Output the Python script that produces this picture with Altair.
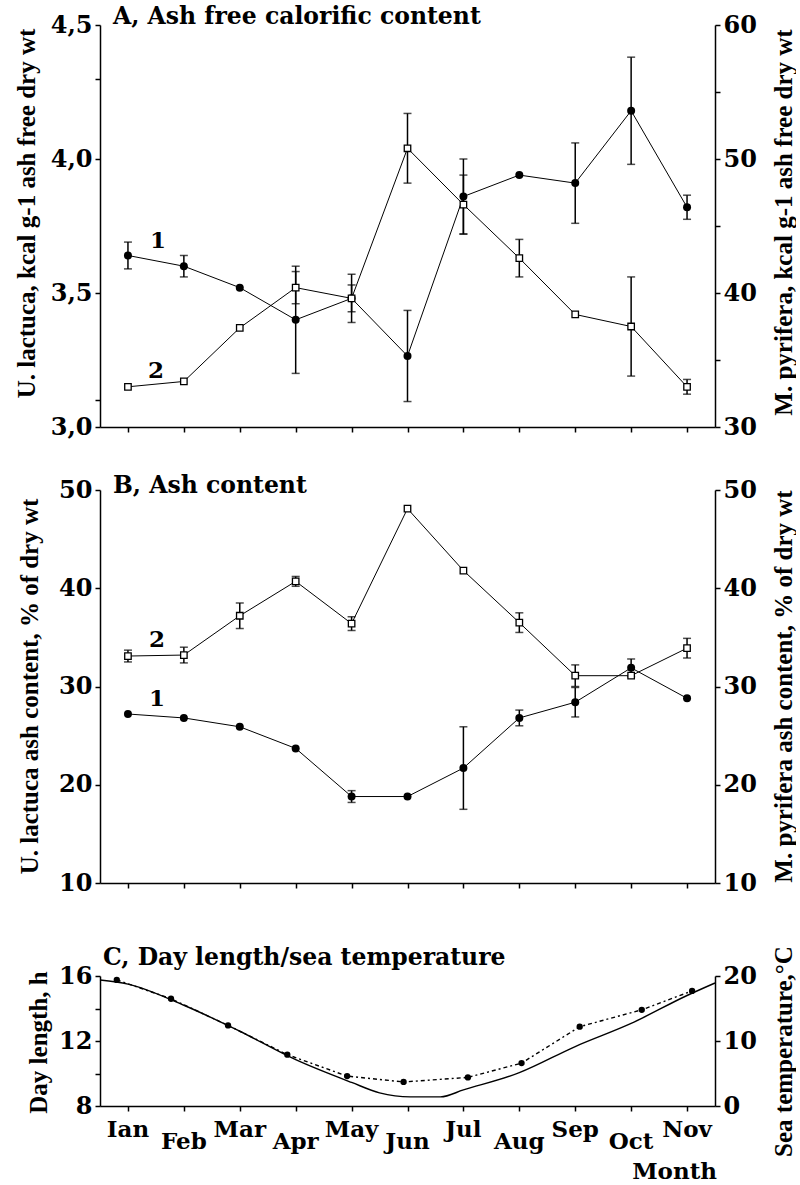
import altair as alt
import pandas as pd

# ---------------- data ----------------
month_idx = list(range(11))
month_labels = ["Ian", "Feb", "Mar", "Apr", "May", "Jun", "Jul", "Aug", "Sep", "Oct", "Nov"]

# Panel A: ash free calorific content
a_ulac = [3.64, 3.60, 3.52, 3.40, 3.48, 3.265, 3.86, 3.94, 3.91, 4.18, 3.82]
a_ulac_err = [0.05, 0.04, 0, 0.20, 0.09, 0.17, 0.14, 0, 0.15, 0.20, 0.045]
a_mpyr = [33.0, 33.4, 37.4, 40.4, 39.6, 50.8, 46.6, 42.6, 38.4, 37.5, 33.0]
a_mpyr_err = [0, 0, 0, 1.2, 1.0, 2.6, 2.2, 1.4, 0, 3.7, 0.55]

# Panel B: ash content
b_ulac = [27.2, 26.8, 25.9, 23.7, 18.8, 18.8, 21.7, 26.8, 28.4, 31.9, 28.8]
b_ulac_err = [0, 0, 0, 0, 0.6, 0, 4.2, 0.8, 1.5, 0.9, 0]
b_mpyr = [33.1, 33.2, 37.2, 40.7, 36.4, 48.1, 41.8, 36.5, 31.1, 31.1, 33.9]
b_mpyr_err = [0.6, 0.8, 1.3, 0.5, 0.7, 0, 0, 1.0, 1.1, 0, 1.0]

# Panel C: day length (h) and sea temperature (C)
day_pos = [-0.5, 0, 1, 2, 3, 4, 4.5, 5.05, 5.59, 6, 7, 8, 9, 10, 10.5]
day_len = [15.75, 15.5, 14.2, 12.6, 10.85, 9.45, 8.81, 8.56, 8.56, 8.99, 10.05, 11.66, 13.08, 14.8, 15.57]
temp_pos = [-0.2, 0.77, 1.79, 2.85, 3.92, 4.93, 6.08, 7.04, 8.08, 9.19, 10.09]
temp_val = [19.4, 16.5, 12.4, 7.9, 4.6, 3.7, 4.4, 6.6, 12.2, 14.8, 17.7]

# ---------------- styling ----------------
W = 615
TICK_FONT = "DejaVu Serif"
TEXT_FONT = "DejaVu Serif"
TITLE_FONT = "Liberation Serif"

xscale = alt.Scale(domain=[-0.5, 10.5], nice=False, zero=False)


def xenc():
    return alt.X("m:Q", scale=xscale,
                 axis=alt.Axis(values=month_idx, labels=False, title=None, grid=False))


def series(df, axis, scale, filled, lab, dx, dy, size):
    base = alt.Chart(df)
    y = alt.Y("v:Q", scale=scale, axis=axis)
    line = base.mark_line(color="black", strokeWidth=1).encode(x=xenc(), y=y)
    eb = base.transform_filter("datum.e > 0").transform_calculate(
        lo="datum.v - datum.e", hi="datum.v + datum.e")
    rule = eb.mark_rule(color="black", strokeWidth=1.5).encode(
        x=xenc(), y=alt.Y("lo:Q", scale=scale, axis=axis), y2="hi:Q")
    cap_lo = eb.mark_tick(orient="horizontal", size=8, thickness=1.5, color="black").encode(
        x=xenc(), y=alt.Y("lo:Q", scale=scale, axis=axis))
    cap_hi = eb.mark_tick(orient="horizontal", size=8, thickness=1.5, color="black").encode(
        x=xenc(), y=alt.Y("hi:Q", scale=scale, axis=axis))
    if filled:
        pts = base.mark_point(shape="circle", filled=True, color="black", size=size, opacity=1)
    else:
        pts = base.mark_point(shape="square", filled=True, fill="white", stroke="black",
                              strokeWidth=1.3, size=size, opacity=1)
    pts = pts.encode(x=xenc(), y=y)
    lbl = base.transform_filter("datum.m == 0").mark_text(
        text=lab, dx=dx, dy=dy, font=TEXT_FONT, fontWeight="bold", fontSize=23,
        color="black").encode(x=xenc(), y=y)
    return alt.layer(line, rule, cap_lo, cap_hi, pts, lbl)


def df_of(vals, errs):
    return pd.DataFrame({"m": month_idx, "v": vals, "e": errs})


def panel_title(text, x, y):
    return alt.Chart(pd.DataFrame({"t": [text]})).mark_text(
        align="left", baseline="middle", font=TEXT_FONT, fontWeight="bold",
        fontSize=23.5, color="black").encode(
        x=alt.value(x), y=alt.value(y), text="t:N")


def yaxis(orient, title, values, label_expr, tx, ty):
    return alt.Axis(orient=orient, title=title, values=values, labelExpr=label_expr,
                    grid=False, titleX=tx, titleY=ty, titleBaseline="middle",
                    titleAngle=270, titleAlign="center")


SP = 63          # gap between plot areas of A and B
EXTRA_C = 30     # extra top space in C so that the B->C gap is larger

# ---------------- panel A ----------------
HA = 402
axA_l = yaxis("left", "U. lactuca,  kcal g-1 ash free dry wt", [3.0, 3.1, 3.5, 4.0, 4.3, 4.5],
              "(datum.value==3||datum.value==3.5||datum.value==4||datum.value==4.5) ? replace(format(datum.value,'.1f'),'.',',') : ''",
              -74, 188)
axA_r = yaxis("right", "M. pyrifera, kcal g-1 ash free dry wt", [30, 35, 40, 45, 50, 55, 60],
              "datum.value % 10 == 0 ? datum.label : ''", 68, 197)
scA_l = alt.Scale(domain=[3.0, 4.5], nice=False, zero=False)
scA_r = alt.Scale(domain=[30, 60], nice=False, zero=False)
A = alt.layer(
    series(df_of(a_ulac, a_ulac_err), axA_l, scA_l, True, "1", 30, -14, 64),
    series(df_of(a_mpyr, a_mpyr_err), axA_r, scA_r, False, "2", 28, -16, 42),
    panel_title("A, Ash free calorific content", 13, -8),
).resolve_scale(y="independent").properties(width=W, height=HA)

# ---------------- panel B ----------------
HB = 393
axB_l = yaxis("left", "U. lactuca ash content, % of dry wt", [10, 20, 30, 40, 50],
              "datum.label", -71, 196)
axB_r = yaxis("right", "M. pyrifera ash content, % of dry wt", [10, 20, 30, 40, 50],
              "datum.label", 68, 196)
scB = alt.Scale(domain=[10, 50], nice=False, zero=False)
B = alt.layer(
    series(df_of(b_ulac, b_ulac_err), axB_l, scB, True, "1", 29, -15, 64),
    series(df_of(b_mpyr, b_mpyr_err), axB_r, scB, False, "2", 29, -16, 42),
    panel_title("B, Ash content", 13, -4),
).resolve_scale(y="independent").properties(width=W, height=HB)

# ---------------- panel C ----------------
HC = 130
HCT = HC + EXTRA_C
df_day = pd.DataFrame({"m": day_pos, "v": day_len})
df_temp = pd.DataFrame({"m": temp_pos, "v": temp_val})
df_lab = pd.DataFrame({"m": month_idx, "lab": month_labels})

axC_l = yaxis("left", "Day length, h", [8, 10, 12, 14, 16],
              "datum.value % 4 == 0 ? datum.label : ''", -62, EXTRA_C + 66)
axC_r = yaxis("right", "Sea temperature,°C", [0, 10, 20], "datum.label", 68, EXTRA_C + 75)
scC_l = alt.Scale(domain=[8, 16], nice=False, zero=False, range=[HCT, EXTRA_C])
scC_r = alt.Scale(domain=[0, 20], nice=False, zero=False, range=[HCT, EXTRA_C])

day_line = alt.Chart(df_day).mark_line(color="black", strokeWidth=1.4, interpolate="monotone").encode(
    x=xenc(), y=alt.Y("v:Q", scale=scC_l, axis=axC_l))
temp_base = alt.Chart(df_temp)
temp_line = temp_base.mark_line(color="black", strokeWidth=1.4, strokeDash=[4, 3, 2, 3]).encode(
    x=xenc(), y=alt.Y("v:Q", scale=scC_r, axis=axC_r))
temp_pts = temp_base.mark_point(shape="circle", filled=True, color="black", size=40, opacity=1).encode(
    x=xenc(), y=alt.Y("v:Q", scale=scC_r, axis=axC_r))

lab_style = dict(font=TEXT_FONT, fontWeight="bold", fontSize=23, color="black",
                 align="center", baseline="alphabetic")
lab_top = alt.Chart(df_lab).transform_filter("datum.m % 2 == 0").mark_text(**lab_style).encode(
    x=xenc(), y=alt.value(EXTRA_C + 161), text="lab:N")
lab_bot = alt.Chart(df_lab).transform_filter("datum.m % 2 == 1").mark_text(**lab_style).encode(
    x=xenc(), y=alt.value(EXTRA_C + 173), text="lab:N")
month_title = alt.Chart(pd.DataFrame({"t": ["Month"]})).mark_text(
    font=TEXT_FONT, fontWeight="bold", fontSize=23, color="black", align="right",
    baseline="alphabetic").encode(x=alt.value(617), y=alt.value(EXTRA_C + 203), text="t:N")

C = alt.layer(
    day_line,
    alt.layer(temp_line, temp_pts),
    lab_top, lab_bot, month_title,
    panel_title("C, Day length/sea temperature", 3, EXTRA_C - 18),
).resolve_scale(y="independent").properties(width=W, height=HCT)

chart = alt.vconcat(A, B, C, spacing=SP, bounds="flush").properties(
    padding={"left": 13, "top": 5, "right": 0, "bottom": 0},
    background="white",
).configure_view(stroke=None).configure_axis(
    domainColor="black", domainWidth=1.5, tickColor="black", tickWidth=1.5, tickSize=5,
    labelFont=TICK_FONT, labelFontWeight="bold", labelFontSize=24, labelColor="black",
    labelPadding=3,
    titleFont=TITLE_FONT, titleFontWeight="bold", titleFontSize=25, titleColor="black",
    grid=False,
)

chart.save("out.html", embed_options={"renderer": "svg", "actions": False})
